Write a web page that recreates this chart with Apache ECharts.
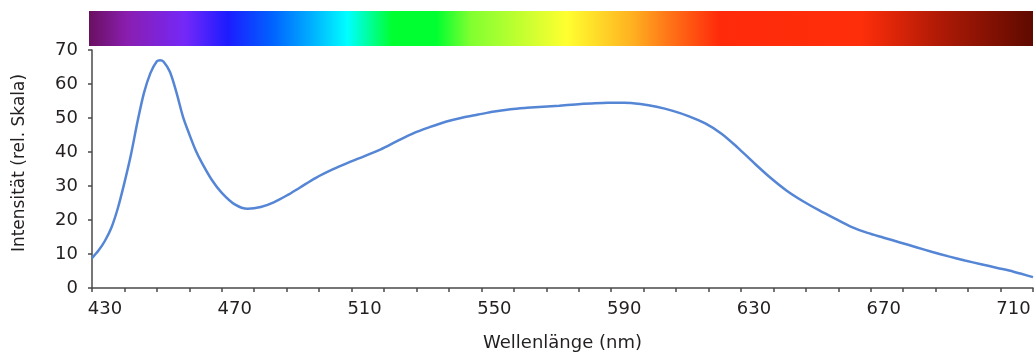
<!DOCTYPE html>
<html>
<head>
<meta charset="utf-8">
<script src="https://cdn.jsdelivr.net/npm/echarts@6/dist/echarts.min.js"></script>
<style>
  html, body { margin: 0; padding: 0; background: #fff; }
  #chart { width: 1035px; height: 357px; }
</style>
</head>
<body>
<div id="chart"></div>
<script>
// Wellenlänge (nm) und relative Intensität
const wavelength = [426, 428, 430, 432, 434, 436, 438, 440, 442, 444, 446, 447, 448, 450, 452, 454, 456, 458, 460, 463, 466, 470, 474, 478, 482, 486, 490, 495, 500, 505, 510, 515, 520, 525, 530, 535, 540, 545, 550, 555, 560, 565, 570, 575, 580, 585, 590, 595, 600, 605, 610, 615, 620, 625, 630, 635, 640, 645, 650, 655, 660, 665, 670, 675, 680, 685, 690, 695, 700, 705, 710, 716]
const intensity = [8.8, 11.0, 13.9, 17.8, 23.6, 31.0, 39.2, 48.8, 57.3, 63.2, 66.7, 67.0, 66.6, 63.6, 57.6, 50.5, 45.2, 40.4, 36.6, 31.7, 28.0, 24.6, 23.3, 23.8, 25.2, 27.2, 29.5, 32.4, 34.8, 36.9, 38.8, 40.8, 43.2, 45.5, 47.3, 48.9, 50.1, 51.0, 51.9, 52.6, 53.0, 53.3, 53.6, 54.0, 54.3, 54.5, 54.5, 54.1, 53.3, 52.1, 50.5, 48.4, 45.4, 41.3, 36.8, 32.5, 28.7, 25.6, 22.9, 20.4, 18.0, 16.2, 14.8, 13.4, 12.0, 10.6, 9.3, 8.1, 7.0, 5.9, 4.8, 3.2]
const xTickLabels = [430, 470, 510, 550, 590, 630, 670, 710]
const xMin = 426
const xMax = 716

// Spektrum-Farbverlauf oben
const spectrumStops = [
  { offset: 0, color: '#6a1060' },
  { offset: 0.041, color: '#8a1eb0' },
  { offset: 0.102, color: '#7428f8' },
  { offset: 0.147, color: '#1c1cff' },
  { offset: 0.194, color: '#0062ff' },
  { offset: 0.236, color: '#00b0ff' },
  { offset: 0.274, color: '#00ffff' },
  { offset: 0.321, color: '#00ff30' },
  { offset: 0.368, color: '#00ff30' },
  { offset: 0.404, color: '#80ff30' },
  { offset: 0.506, color: '#ffff30' },
  { offset: 0.576, color: '#ffb020' },
  { offset: 0.612, color: '#ff7818' },
  { offset: 0.668, color: '#ff2a0a' },
  { offset: 0.817, color: '#ff2e0a' },
  { offset: 0.9, color: '#b01a06' },
  { offset: 1, color: '#5e0a00' },
]

const font = 'DejaVu Sans'
const textColor = '#231f20'
const axisColor = '#4a4a4a'

const chart = echarts.init(document.getElementById('chart'))
chart.setOption({
  animation: false,
  graphic: [
    {
      type: 'rect',
      left: 89,
      top: 11,
      shape: { width: 944, height: 35 },
      style: { fill: new echarts.graphic.LinearGradient(0, 0, 1, 0, spectrumStops) },
      silent: true,
    },
  ],
  grid: { left: 92, right: 2, top: 50, bottom: 66 },
  xAxis: {
    type: 'value',
    min: xMin,
    max: xMax,
    interval: 10,
    name: 'Wellenlänge (nm)',
    nameLocation: 'middle',
    nameGap: 46,
    nameTextStyle: { fontFamily: font, fontSize: 18, color: textColor },
    axisLine: { show: true, onZero: false, lineStyle: { color: axisColor, width: 1.5 } },
    axisTick: { show: true, length: 4, lineStyle: { color: axisColor, width: 1.5 } },
    axisLabel: { customValues: xTickLabels, margin: 12, fontFamily: font, fontSize: 18, color: textColor },
    splitLine: { show: false },
  },
  yAxis: {
    type: 'value',
    min: 0,
    max: 70,
    interval: 10,
    name: 'Intensität (rel. Skala)',
    nameLocation: 'middle',
    nameGap: 64,
    nameRotate: 90,
    nameTextStyle: { fontFamily: font, fontSize: 17, color: textColor, padding: [0, 0, 0, 12] },
    axisLine: { show: true, lineStyle: { color: axisColor, width: 1.5 } },
    axisTick: { show: true, length: 4, lineStyle: { color: axisColor, width: 1.5 } },
    axisLabel: { margin: 14, fontFamily: font, fontSize: 18, color: textColor },
    splitLine: { show: false },
  },
  series: [
    {
      type: 'line',
      data: wavelength.map((w, i) => [w, intensity[i]]),
      smooth: 0.3,
      showSymbol: false,
      lineStyle: { color: '#5585d5', width: 2.5 },
    },
  ],
})
</script>
</body>
</html>
